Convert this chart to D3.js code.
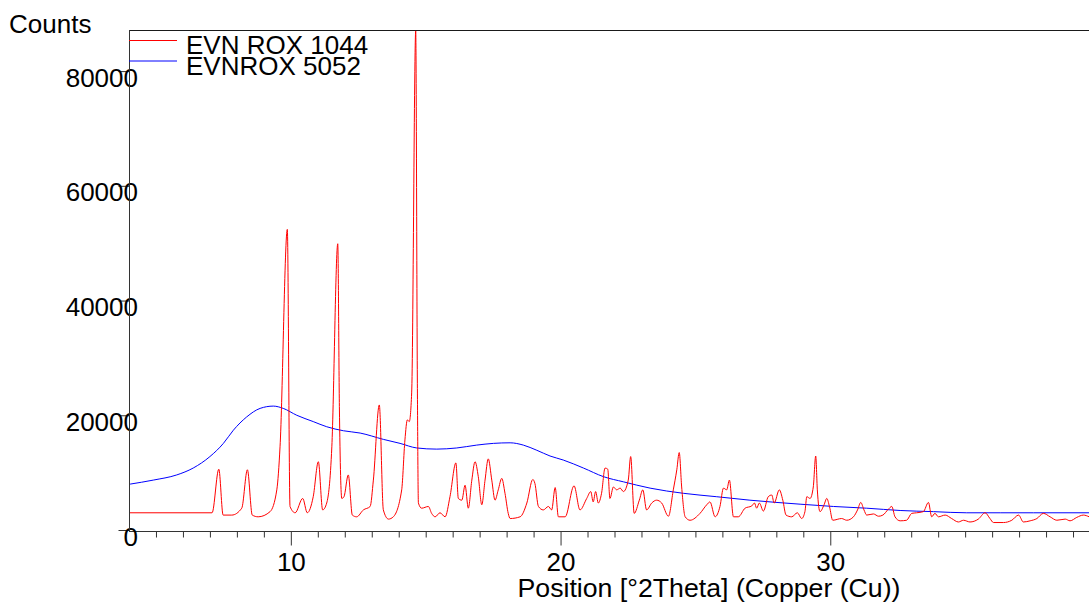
<!DOCTYPE html>
<html lang="en">
<head>
  <meta charset="UTF-8">
  <script src="https://d3js.org/d3.v7.min.js"></script>
  <style>
    body { margin: 0; padding: 0; background: #fff; overflow: hidden; }
    svg text { font-family: "Liberation Sans", Arial, sans-serif; fill: #000; }
  </style>
</head>
<body>
  <script>
    // EVN ROX 1044 (crystalline, red)
    const theta1044 = [4.00, 7.08, 7.33, 7.49, 7.81, 8.18, 8.39, 8.57, 8.79, 9.23, 9.48, 9.60, 9.87, 9.97, 10.16,
      10.44, 10.61, 10.83, 11.02, 11.18, 11.33, 11.52, 11.74, 11.80, 11.89, 11.97, 12.13, 12.28, 12.44, 12.69,
      12.94, 13.06, 13.28, 13.43, 13.62, 13.80, 14.11, 14.23, 14.32, 14.39, 14.48, 14.63, 14.69, 14.73, 14.85,
      15.10, 15.22, 15.35, 15.53, 15.72, 15.90, 16.12, 16.21, 16.34, 16.46, 16.58, 16.71, 16.83, 16.95, 17.08,
      17.20, 17.32, 17.45, 17.57, 17.69, 17.82, 17.94, 18.06, 18.13, 18.50, 18.75, 18.97, 19.05, 19.18, 19.36,
      19.55, 19.67, 19.80, 19.92, 20.17, 20.50, 20.72, 20.97, 21.12, 21.21, 21.30, 21.40, 21.52, 21.65, 21.75,
      21.83, 21.96, 22.08, 22.21, 22.33, 22.51, 22.60, 22.73, 22.92, 23.05, 23.19, 23.38, 23.56, 23.75, 24.00,
      24.18, 24.31, 24.40, 24.49, 24.62, 24.80, 25.17, 25.42, 25.54, 25.73, 25.91, 26.04, 26.16, 26.26, 26.41,
      26.59, 26.84, 27.09, 27.19, 27.27, 27.37, 27.52, 27.70, 27.83, 27.92, 28.11, 28.24, 28.36, 28.57, 28.78,
      28.94, 29.06, 29.13, 29.25, 29.37, 29.46, 29.52, 29.62, 29.77, 29.87, 29.97, 30.09, 30.42, 30.61, 30.86,
      31.01, 31.13, 31.25, 31.35, 31.60, 31.79, 31.95, 32.15, 32.28, 32.40, 32.59, 32.83, 33.02, 33.20, 33.45,
      33.64, 33.76, 33.88, 34.01, 34.26, 34.50, 34.75, 34.94, 35.18, 35.49, 35.74, 35.92, 36.05, 36.42, 36.73,
      36.98, 37.16, 37.41, 37.66, 37.90, 38.15, 38.40, 38.71, 38.89, 39.14, 39.38, 39.60];
    const counts1044 = [3000, 3000, 10600, 2600, 2600, 3800, 10500, 2600, 2300, 3200, 7000, 14500, 52400, 4100, 3000,
      5500, 3000, 5800, 11900, 3500, 4700, 14500, 49900, 21500, 5500, 5800, 9600, 2600, 2300, 3500,
      4100, 8700, 21800, 3500, 1900, 2300, 7000, 15700, 19200, 18900, 23900, 87000, 26500, 4700, 3800,
      4100, 2900, 2300, 3000, 2300, 5800, 11700, 5500, 5200, 7800, 3800, 8700, 11900, 9300, 4400,
      8700, 12400, 8700, 5200, 7000, 9000, 6400, 2900, 2000, 2300, 4700, 8800, 8100, 4100, 3500,
      4100, 3500, 7400, 2300, 2300, 7700, 3500, 5500, 6700, 4900, 6700, 4700, 6400, 10800, 10600,
      5500, 7500, 7000, 7300, 6700, 8700, 12800, 2900, 5200, 7000, 3500, 4700, 5200, 4700, 2400,
      7000, 10500, 13500, 7500, 2300, 1700, 2900, 4400, 4900, 2300, 4100, 7300, 7000, 8700, 2300,
      2300, 3800, 4200, 4700, 3800, 4700, 3300, 5800, 6100, 4700, 7000, 5200, 2600, 2300, 3000,
      2000, 3200, 5800, 5500, 7500, 12900, 7000, 3200, 4400, 5500, 4100, 1700, 2000, 1700, 2300,
      3500, 4800, 3500, 2600, 2800, 2400, 2600, 3600, 4100, 2300, 1600, 1700, 2900, 3000, 3200,
      4800, 2300, 2900, 2300, 2600, 2000, 1400, 1700, 1400, 1900, 3000, 2000, 1300, 1300, 1700,
      2600, 1400, 1600, 2000, 2900, 2300, 1700, 1900, 1600, 2200, 2600, 2300];

    // EVNROX 5052 (amorphous halo, blue)
    const theta5052 = [4.04, 4.90, 5.77, 6.38, 7.00, 7.50, 7.87, 8.36, 8.86, 9.35, 9.72, 10.22, 10.83, 11.33,
      11.95, 12.57, 13.43, 14.05, 14.67, 15.41, 16.15, 16.89, 17.51, 18.13, 18.62, 19.12, 19.61, 20.10,
      20.85, 21.59, 22.33, 23.32, 24.55, 25.79, 27.02, 28.88, 30.12, 31.35, 32.59, 33.83, 35.06, 36.30,
      37.53, 39.60];
    const counts5052 = [8000, 8700, 9600, 10800, 12800, 15100, 17400, 19700, 21200, 21600, 21200, 20000, 18900, 18000,
      17300, 16900, 15800, 15100, 14300, 14100, 14300, 14800, 15100, 15200, 14800, 13900, 12900, 12200,
      10800, 9300, 8400, 7300, 6400, 5800, 5200, 4500, 4100, 3800, 3400, 3200, 3000, 3000,
      3000, 3000];

    const seriesNames = ['EVN ROX 1044', 'EVNROX 5052'];
    const seriesColors = ['#ff0000', '#0000ff'];
    const yTicks = [0, 20000, 40000, 60000, 80000];
    const xMinor = d3.range(5, 40);
    const xMajor = [10, 20, 30];

    const W = 1089, H = 603;
    const plotLeft = 129, plotTop = 30, plotRight = 1100, zeroY = 530, axisY = 531.5;

    const svg = d3.select('body').append('svg')
      .attr('width', W)
      .attr('height', H);

    const x = d3.scaleLinear().domain([4, 40]).range([plotLeft, plotRight]);
    const y = d3.scaleLinear().domain([0, 87165]).range([zeroY, plotTop]);

    // top frame line
    svg.append('line')
      .attr('x1', plotLeft).attr('x2', W)
      .attr('y1', plotTop + 0.5).attr('y2', plotTop + 0.5)
      .attr('stroke', '#1a1a1a').attr('stroke-width', 1);

    // curves
    const line = d3.line().curve(d3.curveMonotoneX)
      .x(d => x(d[0])).y(d => y(d[1]));
    const data1044 = theta1044.map((t, i) => [t, counts1044[i]]);
    const data5052 = theta5052.map((t, i) => [t, counts5052[i]]);

    svg.append('defs').append('clipPath').attr('id', 'plot')
      .append('rect').attr('x', plotLeft).attr('y', plotTop)
      .attr('width', plotRight - plotLeft).attr('height', axisY - plotTop);

    const curves = svg.append('g').attr('clip-path', 'url(#plot)');
    curves.append('path').datum(data5052)
      .attr('d', line).attr('fill', 'none')
      .attr('stroke', seriesColors[1]).attr('stroke-width', 1);
    curves.append('path').datum(data1044)
      .attr('d', line).attr('fill', 'none')
      .attr('stroke', seriesColors[0]).attr('stroke-width', 1);

    // x axis
    const xAxis = svg.append('g')
      .attr('transform', `translate(0,${axisY})`)
      .call(d3.axisBottom(x).tickValues(xMinor).tickSize(6).tickSizeOuter(0)
        .tickFormat(d => xMajor.includes(d) ? d : ''));
    xAxis.select('.domain').remove();
    xAxis.selectAll('.tick line').attr('stroke', '#333')
      .attr('y2', d => xMajor.includes(d) ? 14 : 6);
    xAxis.selectAll('.tick text')
      .attr('y', 0).attr('dy', 0)
      .attr('transform', 'translate(0,39.5)')
      .style('font-size', '26px');
    xAxis.append('line')
      .attr('x1', plotLeft).attr('x2', W).attr('y1', 0).attr('y2', 0)
      .attr('stroke', '#333');

    // y axis
    const yAxis = svg.append('g')
      .attr('transform', `translate(${plotLeft + 0.5},0)`)
      .call(d3.axisLeft(y).tickValues(yTicks).tickSize(11).tickSizeOuter(0)
        .tickFormat(d3.format('d')));
    yAxis.select('.domain').remove();
    yAxis.selectAll('.tick line').attr('stroke', '#333');
    yAxis.selectAll('.tick text')
      .attr('x', 8.5).attr('dy', 15)
      .attr('text-anchor', 'end')
      .style('font-size', '26px');
    yAxis.append('line')
      .attr('x1', 0).attr('x2', 0).attr('y1', plotTop).attr('y2', axisY)
      .attr('stroke', '#333');

    // axis titles
    svg.append('text')
      .attr('x', 9).attr('y', 33)
      .style('font-size', '26px')
      .text('Counts');
    svg.append('text')
      .attr('x', 709).attr('y', 597)
      .attr('text-anchor', 'middle')
      .style('font-size', '26.7px')
      .text('Position [°2Theta] (Copper (Cu))');

    // legend
    const legend = svg.append('g');
    const legendLineY = [40.5, 61];
    const legendTextY = [54, 75];
    seriesNames.forEach((name, i) => {
      legend.append('line')
        .attr('x1', plotLeft).attr('x2', 177)
        .attr('y1', legendLineY[i]).attr('y2', legendLineY[i])
        .attr('stroke', seriesColors[i]).attr('stroke-width', 1);
      legend.append('text')
        .attr('x', 186).attr('y', legendTextY[i])
        .style('font-size', '26px')
        .text(name);
    });
  </script>
</body>
</html>
